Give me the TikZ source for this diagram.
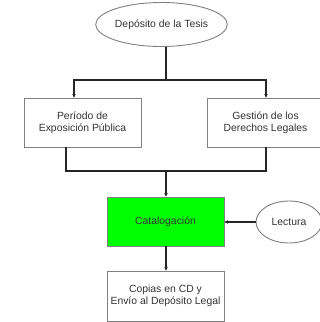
\documentclass[tikz,border=0pt]{standalone}
\usepackage{fontspec}
\setmainfont{Liberation Sans}
\usetikzlibrary{shapes.geometric,arrows.meta}
\definecolor{brightgreen}{RGB}{0,255,0}
\definecolor{bordergray}{RGB}{128,128,128}
\definecolor{textgray}{RGB}{51,51,51}
\begin{document}
\begin{tikzpicture}[x=1pt,y=1pt,
  box/.style={rectangle, draw=bordergray, line width=0.9pt, minimum width=117pt, minimum height=49pt,
    inner sep=0pt, align=center, font=\fontsize{10.4}{12.5}\selectfont, text=textgray},
  oval/.style={ellipse, draw=bordergray, line width=0.9pt, inner sep=0pt,
    font=\fontsize{10.4}{12.5}\selectfont, text=textgray},
  conn/.style={line width=1.2pt, draw=black!85},
  arr/.style={conn, -{Stealth[length=3.6pt,width=3.6pt]}}]
\useasboundingbox (0,0) rectangle (320,-322);
\fill[white] (0,0) rectangle (320,-322);
\node[oval, minimum width=110pt, minimum height=44pt] (dep) at (161.5,-24.5) {Depósito de la Tesis};
\node[box] (per) at (82.5,-122.5) {Período de\\Exposición Pública};
\node[box] (ges) at (265.5,-122.5) {Gestión de los\\Derechos Legales};
\node[box, fill=brightgreen] (cat) at (165.5,-221.5) {Catalogación};
\node[oval, minimum width=66pt, minimum height=42pt] (lec) at (289,-222) {Lectura};
\node[box, minimum height=50pt] (cop) at (165.5,-296) {Copias en CD y\\Envío al Depósito Legal};
\coordinate (s1) at (166,-80);
\coordinate (l1) at (74,-80);
\coordinate (r1) at (266,-80);
\coordinate (s2) at (166,-171);
\coordinate (l2) at (66,-171);
\coordinate (r2) at (266,-171);
\draw[conn] (dep.south -| s1) -- (s1);
\draw[arr] (s1) -- (l1) -- (per.north -| l1);
\draw[arr] (s1) -- (r1) -- (ges.north -| r1);
\draw[conn] (per.south -| l2) -- (l2) -- (r2) -- (ges.south -| r2);
\draw[arr] (s2) -- (cat.north -| s2);
\draw[arr] (lec.west) -- (cat.east |- lec.west);
\draw[arr] (cat.south -| s2) -- (cop.north -| s2);
\end{tikzpicture}
\end{document}
